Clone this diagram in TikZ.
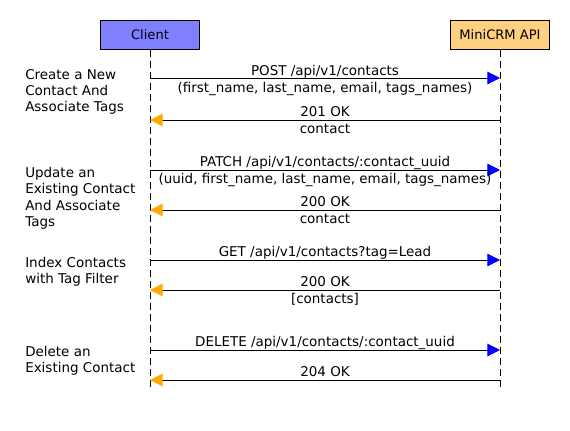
\documentclass[tikz,border=0pt]{standalone}
\usepackage{fontspec}
\setmainfont{DejaVu Sans}
\usetikzlibrary{arrows.meta}
\definecolor{clientfill}{HTML}{8080FF}
\definecolor{apifill}{HTML}{FFD07F}
\definecolor{reqtip}{HTML}{0000FF}
\definecolor{resptip}{HTML}{FFAA00}
\tikzset{
  actor/.style={draw=black, line width=0.75pt, minimum width=74.25pt, minimum height=21.75pt, inner sep=0pt, font=\fontsize{9.8}{11}\selectfont},
  lifeline/.style={draw=black, line width=0.75pt, dash pattern=on 5.25pt off 3pt},
  req/.style={draw=black, line width=0.75pt, -{Triangle[length=9.5pt,width=9.5pt,color=reqtip]}},
  resp/.style={draw=black, line width=0.75pt, -{Triangle[length=9.5pt,width=9.5pt,color=resptip]}},
  lbl/.style={inner sep=0pt, font=\fontsize{10.1}{12}\selectfont, anchor=base},
  note/.style={inner sep=0pt, anchor=north west, align=left, font=\fontsize{10.1}{12.2}\selectfont}
}
\begin{document}
\begin{tikzpicture}[x=0.75pt,y=-0.75pt]
\useasboundingbox[fill=white] (0,0) rectangle (570,430);
% actors
\node[actor, fill=clientfill] (client) at (150,35) {Client};
\node[actor, fill=apifill] (api) at (500,35) {MiniCRM API};
\coordinate (cend) at (150,388);
\coordinate (aend) at (500,388);
\draw[lifeline] (client.south) -- (cend);
\draw[lifeline] (api.south) -- (aend);
% coordinates on lifelines
\coordinate (c1) at (150,78);  \coordinate (a1) at (500,78);
\coordinate (c2) at (150,120); \coordinate (a2) at (500,120);
\coordinate (c3) at (150,170); \coordinate (a3) at (500,170);
\coordinate (c4) at (150,210); \coordinate (a4) at (500,210);
\coordinate (c5) at (150,260); \coordinate (a5) at (500,260);
\coordinate (c6) at (150,290); \coordinate (a6) at (500,290);
\coordinate (c7) at (150,350); \coordinate (a7) at (500,350);
\coordinate (c8) at (150,380); \coordinate (a8) at (500,380);
% messages
\draw[req] (c1) -- (a1);
\draw[resp] (a2) -- (c2);
\draw[req] (c3) -- (a3);
\draw[resp] (a4) -- (c4);
\draw[req] (c5) -- (a5);
\draw[resp] (a6) -- (c6);
\draw[req] (c7) -- (a7);
\draw[resp] (a8) -- (c8);
% message labels
\node[lbl] (m1a) at (325,75) {POST /api/v1/contacts};
\node[lbl] (m1b) at (325,92) {(first\_name, last\_name, email, tags\_names)};
\node[lbl] (m2a) at (325,116) {201 OK};
\node[lbl] (m2b) at (325,133) {contact};
\node[lbl] (m3a) at (325,166) {PATCH /api/v1/contacts/:contact\_uuid};
\node[lbl] (m3b) at (325,183) {(uuid, first\_name, last\_name, email, tags\_names)};
\node[lbl] (m4a) at (325,206) {200 OK};
\node[lbl] (m4b) at (325,223) {contact};
\node[lbl] (m5a) at (325,256) {GET /api/v1/contacts?tag=Lead};
\node[lbl] (m6a) at (325,286) {200 OK};
\node[lbl] (m6b) at (325,303) {[contacts]};
\node[lbl] (m7a) at (325,346) {DELETE /api/v1/contacts/:contact\_uuid};
\node[lbl] (m8a) at (325,376) {204 OK};
% notes
\node[note] (n1) at (25,69) {Create a New\\Contact And\\Associate Tags};
\node[note] (n2) at (25,167) {Update an\\Existing Contact\\And Associate\\Tags};
\node[note] (n3) at (25,257) {Index Contacts\\with Tag Filter};
\node[note] (n4) at (25,346) {Delete an\\Existing Contact};
\end{tikzpicture}
\end{document}
